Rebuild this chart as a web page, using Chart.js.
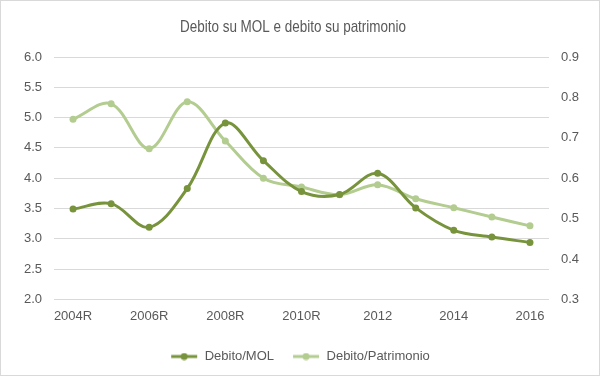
<!DOCTYPE html>
<html lang="it">
<head>
  <meta charset="UTF-8">
  <title>Debito su MOL e debito su patrimonio</title>
  <style>
    html, body { margin: 0; padding: 0; background: #fff; }
    .box {
      width: 600px; height: 376px; box-sizing: border-box;
      border: 1px solid #d9d9d9; background: #fff;
    }
  </style>
</head>
<body>
  <div class="box">
    <canvas id="grafico" width="598" height="374"></canvas>
  </div>

  <script src="https://cdn.jsdelivr.net/npm/chart.js"></script>
  <script>
    // dati
    const anni = ['2004R', '2005R', '2006R', '2007R', '2008R', '2009R', '2010R',
                  '2011', '2012', '2013', '2014', '2015', '2016'];
    const debitoMol = [3.49, 3.58, 3.19, 3.83, 4.91, 4.29, 3.78, 3.73, 4.08, 3.51, 3.14, 3.03, 2.94];
    const debitoPatrimonio = [0.746, 0.784, 0.673, 0.789, 0.692, 0.600, 0.578, 0.559, 0.584, 0.549, 0.527, 0.504, 0.482];
    const titolo = 'Debito su MOL e debito su patrimonio';

    const verdeScuro = '#77933c';
    const verdeChiaro = '#b3cc90';
    const grigioTesto = '#595959';
    const font = "'Liberation Sans', Arial, sans-serif";

    // simbolo legenda: linea con punto al centro
    function simbolo(colore) {
      const c = document.createElement('canvas');
      c.width = 28; c.height = 8;
      const g = c.getContext('2d');
      g.strokeStyle = colore; g.lineWidth = 3;
      g.beginPath(); g.moveTo(1, 4); g.lineTo(27, 4); g.stroke();
      g.fillStyle = colore;
      g.beginPath(); g.arc(14, 4, 3.5, 0, Math.PI * 2); g.fill();
      return c;
    }

    // titolo in carattere stretto (nessun font condensed installato)
    const titoloStretto = {
      id: 'titoloStretto',
      afterDraw(chart) {
        const ctx = chart.ctx;
        ctx.save();
        ctx.font = "17px 'Liberation Sans', Arial, sans-serif";
        ctx.fillStyle = grigioTesto;
        ctx.textAlign = 'center';
        ctx.textBaseline = 'middle';
        const w = ctx.measureText(titolo).width;
        ctx.translate(292, 26);
        ctx.scale(226 / w, 1);
        ctx.fillText(titolo, 0, 0);
        ctx.restore();
      }
    };

    const lienzo = document.getElementById('grafico');
    new Chart(lienzo, {
      type: 'line',
      data: {
        labels: anni,
        datasets: [
          {
            label: 'Debito/MOL',
            data: debitoMol,
            yAxisID: 'y',
            borderColor: verdeScuro,
            backgroundColor: verdeScuro,
            borderWidth: 3,
            pointRadius: 3.5,
            pointBorderWidth: 0,
            tension: 0.35,
            order: 1
          },
          {
            label: 'Debito/Patrimonio',
            data: debitoPatrimonio,
            yAxisID: 'y1',
            borderColor: verdeChiaro,
            backgroundColor: verdeChiaro,
            borderWidth: 3,
            pointRadius: 3.5,
            pointBorderWidth: 0,
            tension: 0.35,
            order: 2
          }
        ]
      },
      plugins: [titoloStretto],
      options: {
        responsive: false,
        animation: false,
        layout: { padding: { top: 56, bottom: 2, left: 0, right: 0 } },
        plugins: {
          title: { display: false },
          legend: {
            position: 'bottom',
            labels: {
              color: grigioTesto,
              font: { family: font, size: 13 },
              usePointStyle: true,
              pointStyleWidth: 28,
              padding: 18,
              generateLabels: (chart) => chart.data.datasets.map((ds, i) => ({
                text: ds.label,
                pointStyle: simbolo(ds.borderColor),
                fontColor: grigioTesto,
                lineWidth: 0,
                strokeStyle: 'transparent',
                fillStyle: 'transparent',
                datasetIndex: i
              }))
            }
          },
          tooltip: { enabled: false }
        },
        scales: {
          x: {
            offset: true,
            grid: { display: false, offset: true },
            border: { display: false },
            ticks: {
              autoSkip: false,
              maxRotation: 0,
              color: grigioTesto,
              font: { family: font, size: 13 },
              padding: 1,
              callback: function (v, i) { return i % 2 === 0 ? this.getLabelForValue(v) : ''; }
            },
            afterFit: s => { s.height += 7; }
          },
          y: {
            position: 'left',
            min: 2, max: 6,
            grid: { color: '#d9d9d9', drawTicks: false },
            border: { display: false },
            ticks: {
              stepSize: 0.5,
              color: grigioTesto,
              font: { family: font, size: 13 },
              padding: 12,
              callback: v => v.toFixed(1)
            },
            afterFit: s => { s.width = 53; }
          },
          y1: {
            position: 'right',
            min: 0.3, max: 0.9,
            grid: { display: false, drawTicks: false },
            border: { display: false },
            ticks: {
              stepSize: 0.1,
              color: grigioTesto,
              font: { family: font, size: 13 },
              padding: 12,
              callback: v => v.toFixed(1)
            },
            afterFit: s => { s.width = 50; }
          }
        }
      }
    });
  </script>
</body>
</html>
